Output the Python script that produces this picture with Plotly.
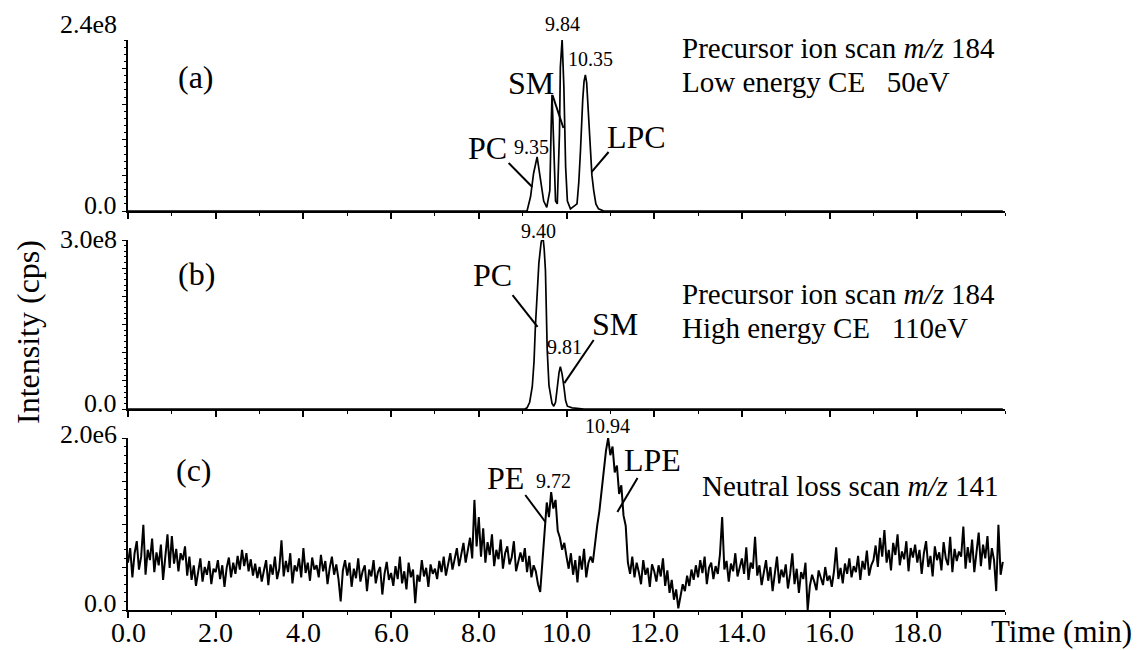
import plotly.graph_objects as go

FONT = "Liberation Serif, 'Times New Roman', Times, serif"
W, H = 1144, 650

# ---------------- data ----------------
# Panel (a): precursor ion scan m/z 184, low energy CE (intensity in 1e8 cps)
time_a = [0.0, 9.10, 9.18, 9.25, 9.33, 9.40, 9.48, 9.55, 9.62, 9.65, 9.67, 9.71,
          9.75, 9.79, 9.84, 9.86, 9.90, 9.94, 9.98, 10.02, 10.09, 10.24, 10.28,
          10.32, 10.345, 10.37, 10.40, 10.43, 10.46, 10.48, 10.51, 10.54, 10.58,
          10.62, 10.67, 10.73, 10.85, 19.95]
int_a = [0, 0, 0.20, 0.53, 0.76, 0.50, 0.14, 0.05, 0.29, 1.18, 1.63, 0.90,
         0.14, 0.10, 1.09, 2.02, 2.41, 1.74, 0.62, 0.14, 0.03, 0.10, 0.40,
         0.86, 1.25, 1.56, 1.82, 1.91, 1.80, 1.56, 1.20, 0.86, 0.50,
         0.29, 0.10, 0.03, 0, 0]

# Panel (b): precursor ion scan m/z 184, high energy CE (intensity in 1e8 cps)
time_b = [0.0, 9.05, 9.10, 9.16, 9.22, 9.26, 9.29, 9.33, 9.37, 9.42, 9.46, 9.49,
          9.52, 9.56, 9.60, 9.67, 9.71, 9.75, 9.79, 9.83, 9.86, 9.90, 9.94,
          9.98, 10.02, 10.13, 10.40, 19.95]
int_b = [0, 0, 0.02, 0.12, 0.40, 0.85, 1.46, 2.05, 2.59, 2.95, 3.08, 2.85,
         2.46, 1.05, 0.42, 0.10, 0.05, 0.12, 0.40, 0.65, 0.75, 0.62, 0.40,
         0.15, 0.05, 0.02, 0, 0]

# Panel (c): neutral loss scan m/z 141 (intensity in 1e4 cps), sampled every 0.05 min
step_c = 0.05
int_c = [
    55, 72, 38, 66, 80, 47, 62, 99, 41, 70, 58, 83, 44, 67, 52, 76, 35, 61, 88, 49,
    86, 54, 71, 45, 66, 58, 74, 40, 62, 35, 52, 28, 47, 60, 33, 50, 41, 57, 30, 48,
    44, 58, 36, 52, 27, 49, 61, 38, 55, 42, 63, 47, 70, 51, 66, 45, 59, 40, 54, 37,
    50, 33, 46, 58, 29, 53, 41, 62, 36, 48, 81, 39, 57, 44, 66, 31, 52, 45, 60, 38,
    72, 43, 55, 34, 61, 47, 52, 38, 64, 45, 57, 30, 49, 62, 41, 53, 36, 10, 46, 58,
    40, 55, 27, 48, 37, 60, 33, 45, 52, 22, 47, 39, 58, 31, 44, 50, 18, 42, 56, 35,
    43, 28, 51, 36, 62, 31, 45, 24, 55, 38, 47, 8, 41, 33, 58, 39, 49, 27, 53, 42,
    48, 36, 57, 44, 62, 40, 53, 66, 47, 58, 72, 51, 64, 78, 55, 69, 84, 60, 128, 74,
    108, 62, 95, 55, 79, 64, 88, 51, 70, 59, 82, 48, 66, 74, 53, 61, 80, 45, 58, 67,
    56, 72, 44, 63, 38, 52, 45, 30, 21, 60, 98, 125, 108, 137, 118, 128, 92, 84, 70, 78,
    62, 48, 66, 41, 58, 32, 63, 47, 71, 38, 55, 62, 55, 80, 98, 115, 140, 168, 185, 200,
    180, 190, 160, 168, 135, 145, 110, 98, 55, 42, 62, 38, 55, 44, 30, 58, 41, 49, 27, 53,
    45, 33, 52, 39, 60, 28, 46, 20, 35, 12, 24, 2, 18, 30, 22, 40, 28, 47, 35, 52,
    38, 58, 43, 62, 30, 49, 55, 36, 51, 42, 65, 108, 47, 57, 33, 54, 45, 66, 39, 50,
    60, 42, 73, 35, 55, 48, 85, 40, 52, 29, 46, 58, 34, 50, 22, 44, 62, 31, 47, 38,
    53, 25, 42, 66, 30, 48, 20, 44, 36, 55, 0, 28, 41, 33, 23, 46, 38, 29, 50, 34,
    40, 27, 45, 73, 36, 49, 31, 54, 42, 60, 38, 51, 44, 63, 35, 57, 47, 69, 40, 52,
    58, 75, 50, 84, 62, 93, 55, 70, 46, 78, 64, 88, 52, 68, 59, 80, 45, 72, 61, 76,
    55, 70, 42, 66, 80, 50, 63, 39, 74, 58, 67, 46, 79, 60, 52, 85, 44, 71, 57, 68,
    62, 97, 48, 73, 55, 82, 44, 69, 90, 51, 76, 60, 86, 47, 72, 58, 22, 99, 41, 56,
]
time_c = [round(i * step_c, 2) for i in range(len(int_c))]

x_ticks = [0, 2, 4, 6, 8, 10, 12, 14, 16, 18]
x_ticktext = ["0.0", "2.0", "4.0", "6.0", "8.0", "10.0", "12.0", "14.0", "16.0", "18.0"]

y_max = [2.4e8, 3.0e8, 2.0e6]
y_major = [0.5e8, 0.5e8, 0.5e6]
y_minor = [0.1e8, 0.1e8, 0.1e6]
y_top_labels = ["2.4e8", "3.0e8", "2.0e6"]

# ---------------- layout helpers ----------------
def px_x(p):
    return p / W

def px_y(p):
    return 1 - p / H

X_DOM = [px_x(128), px_x(1005)]
Y_DOMS = [[px_y(211), px_y(40)], [px_y(409), px_y(240)], [px_y(610), px_y(438)]]
BLACK = "black"

fig = go.Figure()
line_style = dict(color=BLACK, width=1.7)
fig.add_trace(go.Scatter(x=time_a, y=[v * 1e8 for v in int_a], mode="lines",
                         line=line_style, xaxis="x", yaxis="y", cliponaxis=False,
                         showlegend=False))
fig.add_trace(go.Scatter(x=time_b, y=[v * 1e8 for v in int_b], mode="lines",
                         line=line_style, xaxis="x2", yaxis="y2", cliponaxis=False,
                         showlegend=False))
fig.add_trace(go.Scatter(x=time_c, y=[v * 1e4 for v in int_c], mode="lines",
                         line=dict(color=BLACK, width=2.0), xaxis="x3", yaxis="y3",
                         cliponaxis=False, showlegend=False))

def xaxis_cfg(anchor):
    return dict(domain=X_DOM, anchor=anchor, range=[0, 20], automargin=False,
                showline=True, linecolor=BLACK, linewidth=1.6, showgrid=False,
                zeroline=False, ticks="outside", ticklen=6, tickwidth=1.5,
                tickcolor=BLACK, tickmode="array", tickvals=x_ticks,
                showticklabels=False,
                minor=dict(tickmode="linear", tick0=0, dtick=1, ticklen=3,
                           tickwidth=1, tickcolor=BLACK, ticks="outside"))

def yaxis_cfg(anchor, i):
    return dict(domain=Y_DOMS[i], anchor=anchor, range=[0, y_max[i]],
                automargin=False, showline=True, linecolor=BLACK, linewidth=1.6,
                showgrid=False, zeroline=False, ticks="outside", ticklen=4,
                tickwidth=1.2, tickcolor=BLACK, tickmode="linear", tick0=0,
                dtick=y_major[i], showticklabels=False,
                minor=dict(tickmode="linear", tick0=0, dtick=y_minor[i], ticklen=2,
                           tickwidth=1, tickcolor=BLACK, ticks="outside"))

fig.update_layout(
    width=W, height=H, margin=dict(l=0, r=0, t=0, b=0, autoexpand=False),
    paper_bgcolor="white", plot_bgcolor="white",
    font=dict(family=FONT, color=BLACK),
    xaxis=xaxis_cfg("y"), yaxis=yaxis_cfg("x", 0),
    xaxis2=xaxis_cfg("y2"), yaxis2=yaxis_cfg("x2", 1),
    xaxis3=xaxis_cfg("y3"), yaxis3=yaxis_cfg("x3", 2),
)

anns = []

def txt(text, x, y, size, xanchor="center", angle=0, xref="paper", yref="paper"):
    anns.append(dict(text=text, x=x, y=y, xref=xref, yref=yref, showarrow=False,
                     font=dict(family=FONT, size=size, color=BLACK),
                     xanchor=xanchor, yanchor="middle", textangle=angle))

def ptxt(text, px, py, size, xanchor="center", angle=0):
    txt(text, px_x(px), px_y(py), size, xanchor, angle)

# x tick labels of the bottom axis, placed at the tick values
for v, s in zip(x_ticks, x_ticktext):
    txt(s, v, px_y(632), 28, xref="x3")

# y tick labels (top value above the axis end, 0.0 at the baseline)
top_label_px = [24, 239, 434]
zero_label_px = [206, 403, 603]
for i in range(3):
    ptxt(y_top_labels[i], 119, top_label_px[i], 26, xanchor="right")
    ptxt("0.0", 119, zero_label_px[i], 26, xanchor="right")

ptxt("Intensity (cps)", 28, 332, 32, angle=-90)
ptxt("Time (min)", 989, 631, 31, xanchor="left")

# panel (a)
ptxt("(a)", 196, 77, 32)
ptxt("PC", 487, 148, 32)
ptxt("9.35", 531, 147, 20)
ptxt("SM", 531, 83, 32)
ptxt("9.84", 562, 24, 20)
ptxt("10.35", 590, 59, 20)
ptxt("LPC", 637, 137, 32)
ptxt("Precursor ion scan <i>m/z</i> 184", 680, 48, 29, xanchor="left")
ptxt("Low energy CE\u00a0\u00a0 50eV", 680, 82, 29, xanchor="left")

# panel (b)
ptxt("(b)", 196, 274, 32)
ptxt("9.40", 538, 231, 20)
ptxt("PC", 492, 275, 32)
ptxt("9.81", 564, 347, 20)
ptxt("SM", 615, 324, 32)
ptxt("Precursor ion scan <i>m/z</i> 184", 680, 294, 29, xanchor="left")
ptxt("High energy CE\u00a0\u00a0 110eV", 680, 328, 29, xanchor="left")

# panel (c)
ptxt("(c)", 194, 470, 32)
ptxt("10.94", 607, 426, 20)
ptxt("PE", 505, 478, 32)
ptxt("9.72", 553, 481, 20)
ptxt("LPE", 652, 460, 32)
ptxt("Neutral loss scan <i>m/z</i> 141", 700, 486, 29, xanchor="left")

fig.update_layout(annotations=anns)

# leader lines from labels to peaks (data coordinates)
shapes = []
def leader(x0, y0, x1, y1, xref, yref):
    shapes.append(dict(type="line", x0=x0, y0=y0, x1=x1, y1=y1, xref=xref, yref=yref,
                       line=dict(color=BLACK, width=2)))

leader(8.68, 0.674e8, 9.22, 0.337e8, "x", "y")
leader(9.68, 1.628e8, 9.93, 1.165e8, "x", "y")
leader(10.96, 0.828e8, 10.57, 0.547e8, "x", "y")
leader(8.77, 2.02e8, 9.34, 1.456e8, "x2", "y2")
leader(10.62, 1.225e8, 9.95, 0.46e8, "x2", "y2")
leader(9.06, 1.337e6, 9.52, 1.023e6, "x3", "y3")
leader(11.62, 1.535e6, 11.16, 1.14e6, "x3", "y3")
fig.update_layout(shapes=shapes)

fig.write_html("out.html")
